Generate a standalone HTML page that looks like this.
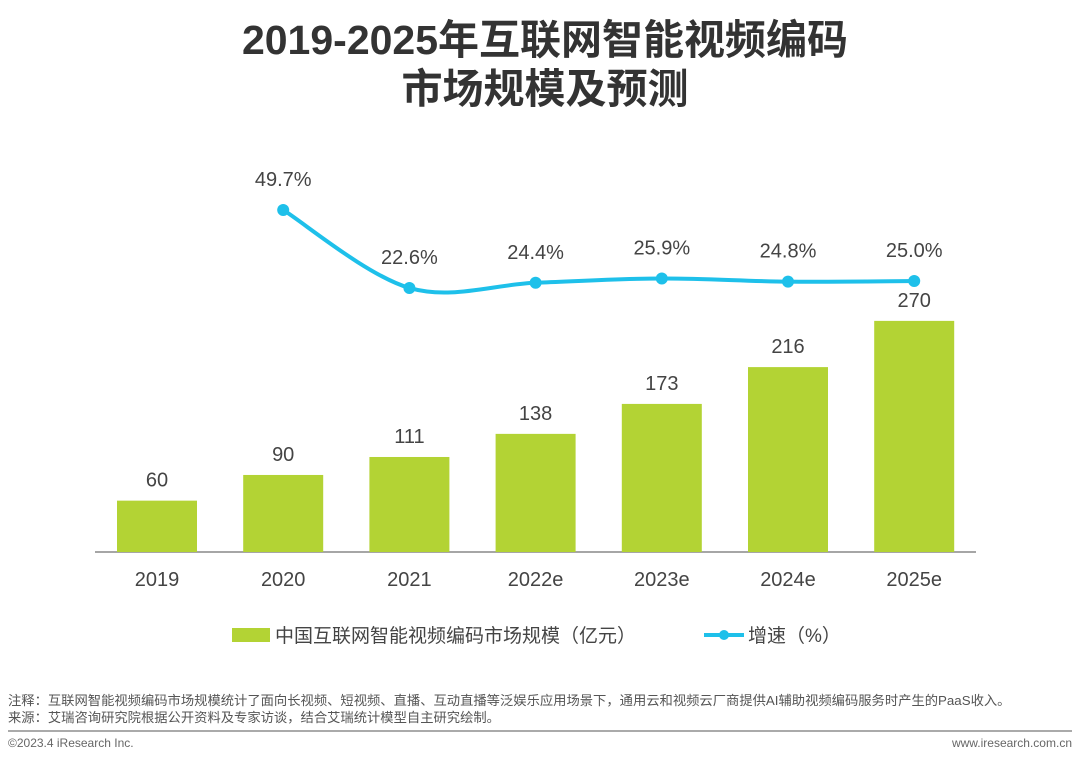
<!DOCTYPE html>
<html><head><meta charset="utf-8"><style>
body{margin:0;width:1080px;height:762px;background:#fff;overflow:hidden;font-family:"Liberation Sans","Noto Sans CJK SC",sans-serif;}
svg text{font-family:"Liberation Sans","Noto Sans CJK SC",sans-serif;}
</style></head><body>
<svg id="c" width="1080" height="762">
<text x="545" y="54" text-anchor="middle" font-size="41" font-weight="bold" fill="#333">2019-2025年互联网智能视频编码</text>
<text x="545" y="103" text-anchor="middle" font-size="41" font-weight="bold" fill="#333">市场规模及预测</text>
<line x1="95" y1="552" x2="976" y2="552" stroke="#888" stroke-width="1.5"/>
<g id="bars"></g><g id="line"></g>
<rect x="232" y="628" width="38" height="14" fill="#b3d334"/>
<text x="275" y="642" font-size="19" fill="#444">中国互联网智能视频编码市场规模（亿元）</text>
<line x1="704" y1="635" x2="744" y2="635" stroke="#1ec0ea" stroke-width="4"/>
<circle cx="724" cy="635" r="5" fill="#1ec0ea"/>
<text x="748" y="642" font-size="19" fill="#444">增速（%）</text>
<text x="8" y="705" font-size="13.3" fill="#555">注释：互联网智能视频编码市场规模统计了面向长视频、短视频、直播、互动直播等泛娱乐应用场景下，通用云和视频云厂商提供AI辅助视频编码服务时产生的PaaS收入。</text>
<text x="8" y="722" font-size="13.3" fill="#555">来源：艾瑞咨询研究院根据公开资料及专家访谈，结合艾瑞统计模型自主研究绘制。</text>
<line x1="8" y1="731" x2="1072" y2="731" stroke="#aaa" stroke-width="2"/>
<text x="8" y="747" font-size="12" fill="#666">©2023.4 iResearch Inc.</text>
<text x="1072" y="747" text-anchor="end" font-size="12" fill="#666">www.iresearch.com.cn</text>
</svg>
<script>
const categories=["2019","2020","2021","2022e","2023e","2024e","2025e"];
const marketSize=[60,90,111,138,173,216,270];
const growth=[null,49.7,22.6,24.4,25.9,24.8,25.0];
const growthLabels=["","49.7%","22.6%","24.4%","25.9%","24.8%","25.0%"];
const NS="http://www.w3.org/2000/svg";
const xC=i=>157+i*126.2;
const yB=v=>552-v*0.856;
const yL=v=>353-v*2.878;
function mk(t,a,p){const e=document.createElementNS(NS,t);for(const k in a)e.setAttribute(k,a[k]);p.appendChild(e);return e;}
const gb=document.getElementById('bars'),gl=document.getElementById('line');
categories.forEach((c,i)=>{
 const r=mk('rect',{x:xC(i)-40,y:yB(marketSize[i]),width:80,height:552-yB(marketSize[i]),fill:'#b3d334'},gb);
 
 
 const t=mk('text',{x:xC(i),y:yB(marketSize[i])-14,'text-anchor':'middle','font-size':20,fill:'#444'},gb);t.textContent=marketSize[i];
 
 
 const l=mk('text',{x:xC(i),y:586,'text-anchor':'middle','font-size':20,fill:'#444'},gb);l.textContent=c;
 
 
});
const pts=[];growth.forEach((v,i)=>{if(v!==null)pts.push([xC(i),yL(v),i]);});
let d='M'+pts[0][0]+','+pts[0][1];
for(let k=0;k<pts.length-1;k++){const p0=pts[Math.max(0,k-1)],p1=pts[k],p2=pts[k+1],p3=pts[Math.min(pts.length-1,k+2)];
 const c1x=p1[0]+(p2[0]-p0[0])/6,c1y=p1[1]+(p2[1]-p0[1])/6,c2x=p2[0]-(p3[0]-p1[0])/6,c2y=p2[1]-(p3[1]-p1[1])/6;
 d+=` C${c1x},${c1y} ${c2x},${c2y} ${p2[0]},${p2[1]}`;}
const path=mk('path',{d:d,fill:'none',stroke:'#1ec0ea','stroke-width':4},gl);


pts.forEach(p=>{const i=p[2];
 const c=mk('circle',{cx:p[0],cy:p[1],r:6,fill:'#1ec0ea'},gl);
 
 
 const t=mk('text',{x:p[0],y:p[1]-24,'text-anchor':'middle','font-size':20,fill:'#444'},gl);t.textContent=growthLabels[i];
 
 
});
</script>
</body></html>
